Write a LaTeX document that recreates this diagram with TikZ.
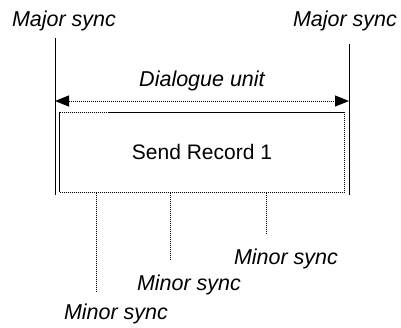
\documentclass[tikz,border=0pt]{standalone}
\usepackage{fontspec}
\setmainfont{Liberation Sans}
\usetikzlibrary{
    arrows.meta,
    positioning
}

\tikzset{
    syncline/.style={line width=1pt, dash pattern=on 1.5pt off 0.5pt},
    synclabel/.style={font=\itshape\fontsize{21.5}{26}\selectfont, inner sep=0pt, anchor=base},
    recordbox/.style={syncline, minimum width=285pt, minimum height=80pt, inner sep=0pt,
        font=\fontsize{21}{26}\selectfont}
}

\begin{document}
\begin{tikzpicture}[x=1pt,y=-1pt]
\useasboundingbox (0,0) rectangle (401,327);

%====================================================
% Major sync
%====================================================

\node[synclabel] (majorL) at (64,26.5) {Major sync};
\node[synclabel] (majorR) at (345,26.5) {Major sync};

\coordinate (topL) at (55,38);
\coordinate (topR) at (349,44);
\coordinate (botL) at (55,195);
\coordinate (botR) at (349,195);

\draw[syncline] (topL) -- (botL);
\draw[syncline] (topR) -- (botR);

%====================================================
% Dialogue unit
%====================================================

\node[synclabel] (unit) at (202,86.5) {Dialogue unit};

\coordinate (arrL) at (55,101);
\coordinate (arrR) at (349,101);

\draw[syncline, {Triangle[length=14pt,width=11pt]}-{Triangle[length=14pt,width=11pt]}] (arrL) -- (arrR);

\node[recordbox, draw] (record) at (202,152) {Send Record 1};

%====================================================
% Minor sync
%====================================================

\coordinate (m1) at (96,292);
\coordinate (m2) at (170,260);
\coordinate (m3) at (266,234);

\draw[syncline] (record.south -| m1) -- (m1);
\draw[syncline] (record.south -| m2) -- (m2);
\draw[syncline] (record.south -| m3) -- (m3);

\node[synclabel] (minorC) at (286,264) {Minor sync};
\node[synclabel] (minorB) at (189,290) {Minor sync};
\node[synclabel] (minorA) at (116,319) {Minor sync};
\end{tikzpicture}
\end{document}
